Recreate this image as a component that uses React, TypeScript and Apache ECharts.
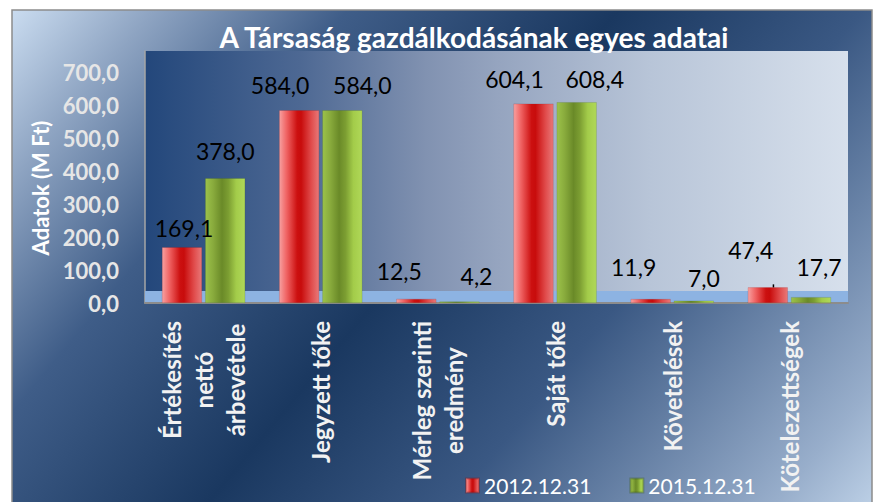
import React, { useEffect, useRef } from 'react';
import * as echarts from 'echarts';

const titleText = 'A Társaság gazdálkodásának egyes adatai';
const yAxisName = 'Adatok (M Ft)';
const categories = [
  'Értékesítés\nnettó\nárbevétele',
  'Jegyzett tőke',
  'Mérleg szerinti\neredmény',
  'Saját tőke',
  'Követelések',
  'Kötelezettségek',
];
const seriesNames = ['2012.12.31', '2015.12.31'];
const values2012 = [169.1, 584.0, 12.5, 604.1, 11.9, 47.4];
const values2015 = [378.0, 584.0, 4.2, 608.4, 7.0, 17.7];
const yMin = 0;
const yInterval = 100;
const yTopTick = 700;

// label placement tweaks (style only)
const labelOffset2012 = [[2, 6], [-19, 0], [-17, -2], [-19, 1], [-17, -7], [-17, -12]];
const labelOffset2015 = [[0, -2], [20, 0], [17, 0], [18, 2], [10, 3], [8, -5]];
const leader2012 = [false, false, false, false, true, true];
const leader2015 = [false, false, false, false, false, false];

const FONT = 'Lato, "Open Sans", sans-serif';
const fmt = (v: number) => v.toFixed(1).replace('.', ',');

export default function App() {
  const ref = useRef<HTMLDivElement>(null);
  useEffect(() => {
    document.body.style.margin = '0';
    const chart = echarts.init(ref.current!, null, { renderer: 'svg' });
    const LG = echarts.graphic.LinearGradient;
    const redGrad = new LG(0, 0, 1, 0, [
      { offset: 0, color: '#f7a0a0' },
      { offset: 0.18, color: '#f06464' },
      { offset: 0.45, color: '#cc1010' },
      { offset: 0.55, color: '#c80c0c' },
      { offset: 0.8, color: '#e04a4a' },
      { offset: 1, color: '#e87878' },
    ]);
    const greenGrad = new LG(0, 0, 1, 0, [
      { offset: 0, color: '#9cc24a' },
      { offset: 0.2, color: '#88aa3c' },
      { offset: 0.42, color: '#6a8a28' },
      { offset: 0.58, color: '#7c9e32' },
      { offset: 0.78, color: '#a3cc4a' },
      { offset: 1, color: '#b0d858' },
    ]);
    const plotGrad = new LG(0, 0, 1, 0, [
      { offset: 0, color: '#23477b' },
      { offset: 0.22, color: '#4d6893' },
      { offset: 0.4, color: '#8192b1' },
      { offset: 0.5, color: '#95a4bf' },
      { offset: 0.72, color: '#b8c5d8' },
      { offset: 1, color: '#d7e0ec' },
    ]);
    const outerGrad = new LG(12, 10, 774, 644, [
      { offset: 0, color: '#cadcf0' },
      { offset: 0.11, color: '#8ea4c2' },
      { offset: 0.26, color: '#3f5d88' },
      { offset: 0.47, color: '#1a3860' },
      { offset: 0.66, color: '#3a5883' },
      { offset: 0.91, color: '#98aecb' },
      { offset: 1, color: '#c2d5ea' },
    ], true);

    const gridTop = 51, gridBottomY = 303, tickTopY = 72;
    const yMax = yTopTick * (gridBottomY - gridTop) / (gridBottomY - tickTopY);

    const mkData = (vals: number[], offs: number[][], leaders: boolean[]) =>
      vals.map((v, i) => ({
        value: v,
        label: { offset: offs[i] },
        labelLine: { show: leaders[i], lineStyle: { color: '#000', width: 1.5 } },
      }));

    const labelCommon = {
      show: true,
      position: 'top',
      distance: 14,
      color: '#000',
      fontFamily: FONT,
      fontSize: 23,
      formatter: (p: any) => fmt(p.value),
    };

    chart.setOption({
      animation: false,
      graphic: [
        {
          type: 'rect', z: -5, silent: true,
          shape: { x: 12, y: 10, width: 860, height: 494 },
          style: { fill: outerGrad, stroke: '#8c8c8c', lineWidth: 1.5 },
        },
        {
          type: 'rect', z: 1, silent: true,
          shape: { x: 145, y: 291, width: 703, height: 11 },
          style: { fill: '#8db3e2' },
        },
      ],
      title: {
        text: titleText,
        left: 474,
        top: 23,
        textAlign: 'center',
        padding: 0,
        textStyle: { color: '#ffffff', fontFamily: FONT, fontWeight: 'bold', fontSize: 28 },
      },
      legend: {
        left: 465,
        top: 475,
        padding: 0,
        itemWidth: 13,
        itemHeight: 14,
        itemGap: 38,
        icon: 'rect',
        textStyle: { color: '#ffffff', fontFamily: FONT, fontSize: 21 },
        data: seriesNames,
      },
      grid: {
        left: 145,
        right: 875 - 848,
        top: gridTop,
        bottom: 502 - gridBottomY,
        show: true,
        borderWidth: 0,
        backgroundColor: plotGrad,
      },
      xAxis: {
        type: 'category',
        data: categories,
        axisLine: { show: true, lineStyle: { color: '#8c8c8c', width: 2 } },
        axisTick: { show: false },
        axisLabel: {
          interval: 0,
          rotate: 90,
          margin: 18,
          formatter: (v: string) => v.split('\n').map((l) => `{c|${l}}`).join('\n'),
          rich: {
            c: {
              align: 'center',
              color: '#f2f2f2',
              fontFamily: FONT,
              fontWeight: 'bold',
              fontSize: 24,
              lineHeight: 32,
            },
          },
        },
      },
      yAxis: {
        type: 'value',
        min: yMin,
        max: yMax,
        interval: yInterval,
        name: `{n|${yAxisName}}`,
        nameLocation: 'middle',
        nameGap: 93,
        nameTextStyle: {
          color: '#ffffff', fontFamily: FONT, fontWeight: 'bold', fontSize: 22,
          rich: {
            n: {
              color: '#ffffff', fontFamily: FONT, fontWeight: 'bold', fontSize: 22,
              padding: [0, 22, 0, 0],
            },
          },
        },
        axisLine: { show: true, lineStyle: { color: '#a6a6a6', width: 1.5 } },
        axisTick: { show: false },
        splitLine: { show: false },
        axisLabel: {
          showMaxLabel: false,
          margin: 26,
          color: '#e6e6e6',
          fontFamily: FONT,
          fontWeight: 'bold',
          fontSize: 22,
          formatter: (v: number) => (v <= yTopTick + 0.001 ? fmt(v) : ''),
        },
      },
      series: [
        {
          name: seriesNames[0],
          type: 'bar',
          barWidth: 40,
          barGap: '8%',
          itemStyle: { color: redGrad, borderColor: 'rgba(140,20,20,0.35)', borderWidth: 0.5 },
          label: labelCommon,
          data: mkData(values2012, labelOffset2012, leader2012),
        },
        {
          name: seriesNames[1],
          type: 'bar',
          barWidth: 40,
          barGap: '8%',
          itemStyle: { color: greenGrad, borderColor: 'rgba(60,90,20,0.35)', borderWidth: 0.5 },
          label: labelCommon,
          data: mkData(values2015, labelOffset2015, leader2015),
        },
      ],
    });
    return () => chart.dispose();
  }, []);
  return <div ref={ref} style={{ width: 875, height: 502 }} />;
}
